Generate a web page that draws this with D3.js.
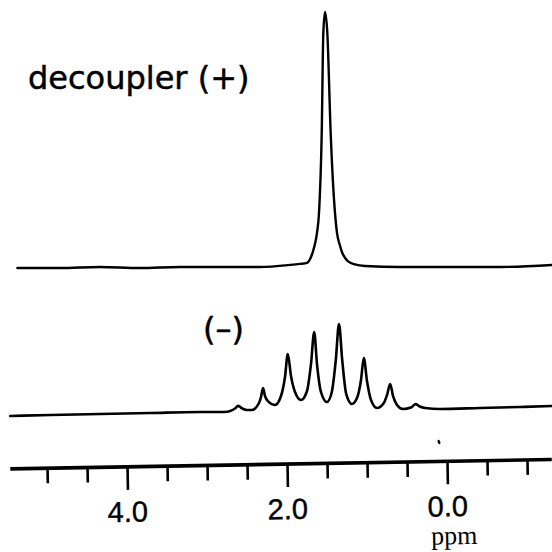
<!DOCTYPE html>
<html>
<head>
<meta charset="utf-8">
<script src="https://cdn.jsdelivr.net/npm/d3@7.9.0/dist/d3.min.js"></script>
<style>
  html, body { margin: 0; padding: 0; background: #fff; }
  svg { display: block; }
  .trace { fill: none; stroke: #000; stroke-linejoin: round; stroke-linecap: round; }
  .label { font-family: "DejaVu Sans", sans-serif; fill: #000; stroke: #000; stroke-width: 0.5; }
  .ticklabel { font-family: "Liberation Sans", Arial, Helvetica, sans-serif; fill: #000; stroke: #000; stroke-width: 0.4; }
</style>
</head>
<body>
<svg id="chart" width="552" height="552"></svg>
<script>
// decoupled spectrum (top): [ppm, relative intensity]
const decoupledOn = [
  [5.37, 0], [4.84, 0], [4.34, 0.4], [3.84, 0], [3.34, 0.4], [2.84, 0.4],
  [2.34, 0.4], [1.96, 1.2], [1.84, 1.6], [1.75, 2.0], [1.70, 4.3], [1.66, 8.2],
  [1.625, 13.7], [1.60, 21.5], [1.566, 52.7], [1.546, 91.8], [1.525, 100],
  [1.496, 91.8], [1.454, 52.7], [1.40, 21.5], [1.375, 13.7], [1.34, 9.0],
  [1.31, 6.0], [1.275, 4.0], [1.24, 2.7], [1.15, 1.4], [1.025, 0.8],
  [0.59, 0.4], [-0.04, 0.4], [-0.66, 0.4], [-1.31, 1.2]
];

// coupled spectrum (bottom): [ppm, relative intensity]
const decoupledOff = [
  [5.46, -4.5], [4.96, -3.4], [4.34, -2.3], [3.71, -1.1], [3.09, 0], [2.78, 0],
  [2.71, 1.1], [2.65, 4.0], [2.61, 7.0], [2.56, 4.0], [2.50, 2.3], [2.44, 2.3],
  [2.35, 10.2], [2.325, 17.0], [2.30, 27.3], [2.275, 18.2], [2.24, 12.5],
  [2.15, 8.0], [2.075, 18.2], [2.025, 39.8], [1.99, 65.9], [1.95, 40.9],
  [1.90, 22.7], [1.825, 13.6], [1.75, 23.9], [1.70, 54.5], [1.66, 90.9],
  [1.625, 54.5], [1.575, 22.7], [1.50, 11.4], [1.44, 22.7], [1.39, 59.1],
  [1.35, 100], [1.31, 59.1], [1.26, 20.5], [1.19, 9.1], [1.125, 15.9],
  [1.075, 36.4], [1.04, 61.4], [1.00, 35.2], [0.95, 13.6], [0.875, 4.5],
  [0.79, 10.2], [0.75, 19.3], [0.71, 31.8], [0.675, 18.2], [0.625, 8.0],
  [0.55, 3.4], [0.45, 5.2], [0.39, 9.0], [0.34, 6.2], [0.275, 4.5],
  [0.09, 3.4], [-0.41, 4.5], [-0.91, 5.7], [-1.31, 6.8]
];

const minorTicks = [5, 4.5, 3.5, 3, 2.5, 1.5, 1, 0.5, -0.5, -1];
const majorTicks = [4, 2, 0];
const tickLabels = ["4.0", "2.0", "0.0"];
const axisExtent = [5.46, -1.31];
const unitLabel = "ppm";
const topLabel = "decoupler (+)";
const bottomLabel = "(\u2013)";

const svg = d3.select("#chart");

const x = d3.scaleLinear().domain([5, -1]).range([47, 527]);
const yTop = d3.scaleLinear().domain([0, 100]).range([268, 12]);
const yBot = d3.scaleLinear().domain([0, 100]).range([412, 324]);

const lineTop = d3.line()
  .x(d => x(d[0]))
  .y(d => yTop(d[1]))
  .curve(d3.curveMonotoneX);

const lineBot = d3.line()
  .x(d => x(d[0]))
  .y(d => yBot(d[1]))
  .curve(d3.curveMonotoneX);

// ppm runs right-to-left, so sort points by pixel x
const sortByX = arr => arr.slice().sort((a, b) => x(a[0]) - x(b[0]));

svg.append("path")
  .attr("class", "trace")
  .attr("stroke-width", 2.4)
  .attr("d", lineTop(sortByX(decoupledOn)));

svg.append("path")
  .attr("class", "trace")
  .attr("stroke-width", 2.6)
  .attr("d", lineBot(sortByX(decoupledOff)));

// axis, slightly tilted like the scan
const axisY = 461.3;
const axisG = svg.append("g")
  .attr("transform", `rotate(-1, ${x(0)}, ${axisY}) translate(0, ${axisY})`);

axisG.append("line")
  .attr("x1", x(axisExtent[0]))
  .attr("x2", x(axisExtent[1]))
  .attr("stroke", "#000")
  .attr("stroke-width", 3.6);

const minorAxis = d3.axisBottom(x).tickValues(minorTicks).tickSize(15).tickFormat("");
const majorAxis = d3.axisBottom(x).tickValues(majorTicks).tickSize(23).tickFormat("");

[minorAxis, majorAxis].forEach(ax => {
  const g = axisG.append("g").call(ax);
  g.select(".domain").remove();
  g.selectAll(".tick line").attr("stroke", "#000").attr("stroke-width", 2.6);
});

axisG.selectAll(".ticklabel")
  .data(majorTicks)
  .join("text")
  .attr("class", "ticklabel")
  .attr("x", d => x(d))
  .attr("y", 55)
  .attr("text-anchor", "middle")
  .attr("font-size", 29)
  .text((d, i) => tickLabels[i]);

axisG.append("text")
  .attr("x", x(0) + 6)
  .attr("y", 83)
  .attr("text-anchor", "middle")
  .attr("font-family", "'Liberation Serif', 'Times New Roman', serif")
  .attr("font-size", 26)
  .attr("fill", "#000")
  .text(unitLabel);

// trace labels
svg.append("text")
  .attr("class", "label")
  .attr("x", 28)
  .attr("y", 89)
  .attr("font-size", 32)
  .text(topLabel);

svg.append("text")
  .attr("class", "label")
  .attr("x", 203)
  .attr("y", 340)
  .attr("font-size", 32)
  .text(bottomLabel);

// small speck in the scan
svg.append("ellipse")
  .attr("cx", 439)
  .attr("cy", 442)
  .attr("rx", 1.3)
  .attr("ry", 2.3)
  .attr("transform", "rotate(-20, 439, 442)")
  .attr("fill", "#000");
</script>
</body>
</html>
